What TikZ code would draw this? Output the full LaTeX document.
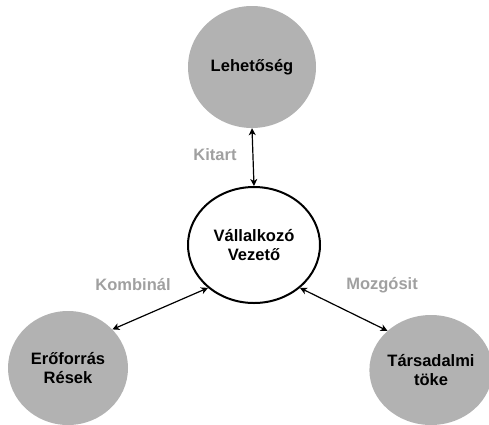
\documentclass[tikz,border=0pt]{standalone}
\usepackage{fontspec}
\setmainfont{Liberation Sans}
\usetikzlibrary{shapes.geometric, arrows.meta}
\definecolor{bubblegray}{RGB}{178,178,178}
\definecolor{labelgray}{RGB}{160,160,160}
\begin{document}
\begin{tikzpicture}[x=1pt, y=-1pt,
  bubble/.style={ellipse, fill=bubblegray, inner sep=0pt, align=center,
    font=\fontsize{16.5}{19}\selectfont\bfseries},
  leader/.style={ellipse, draw, line width=2pt, fill=white, inner sep=0pt,
    minimum width=132pt, minimum height=116pt, align=center,
    font=\fontsize{16.5}{19}\selectfont\bfseries},
  verb/.style={text=labelgray, font=\fontsize{16.5}{19}\selectfont\bfseries},
  link/.style={line width=1.2pt, {Stealth[length=7pt,width=7pt,inset=2pt]}-{Stealth[length=7pt,width=7pt,inset=2pt]}}]
  % Coordinates
  \coordinate (O) at (0, 0);
  \coordinate (Z) at (489, 424);
  \coordinate (A) at (252, 67);
  \coordinate (B) at (254, 245);
  \coordinate (C) at (68, 368);
  \coordinate (D) at (431, 370);

  \useasboundingbox (O) rectangle (Z);

  % Drawing
  \node[bubble, minimum width=128pt, minimum height=122pt] (chance) at (A) {Lehetőség};
  \node[leader] (leader) at (B) {Vállalkozó\\Vezető};
  \node[bubble, minimum width=120pt, minimum height=114pt] (resource) at (C) {Erőforrás\\Rések};
  \node[bubble, minimum width=114pt, minimum height=110pt] (capital) at (D) {Társadalmi\\töke};

  \draw[link] (chance.south) -- (leader.north);
  \draw[link] (leader.223) -- (resource.41);
  \draw[link] (leader.317) -- (capital.138);

  \node[verb] (persist) at (215, 155) {Kitart};
  \node[verb] (combine) at (133, 285) {Kombinál};
  \node[verb] (mobilise) at (382, 285) {Mozgósit};
\end{tikzpicture}
\end{document}
